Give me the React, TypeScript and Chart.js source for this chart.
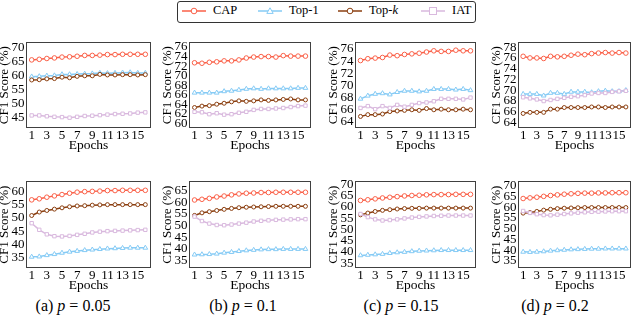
import React, { useEffect, useRef } from "react";
import { Chart, registerables } from "chart.js";
Chart.register(...registerables);

const FONT = "'Liberation Serif', 'DejaVu Serif', serif";

const epochs = [1, 2, 3, 4, 5, 6, 7, 8, 9, 10, 11, 12, 13, 14, 15, 16];
const xTickLabels = [1, 3, 5, 7, 9, 11, 13, 15];
const seriesNames = ["CAP", "Top-1", "Top-k", "IAT"];

// Top row (first metric)
const capTopA = [65.7, 65.9, 66.2, 66.4, 66.7, 66.8, 67.0, 67.3, 67.3, 67.4, 67.6, 67.6, 67.7, 67.7, 67.7, 67.7];
const top1TopA = [59.7, 59.8, 60.0, 60.1, 60.5, 60.5, 60.6, 60.7, 60.8, 61.0, 60.9, 61.0, 61.1, 61.2, 61.0, 61.0];
const topkTopA = [58.5, 58.6, 58.9, 59.0, 59.5, 59.3, 59.8, 60.0, 60.0, 60.5, 60.3, 60.3, 60.4, 60.4, 60.3, 60.4];
const iatTopA = [45.8, 45.8, 45.5, 45.3, 45.2, 45.0, 45.3, 45.6, 45.7, 45.9, 46.1, 46.3, 46.4, 46.5, 46.8, 46.9];

const capTopB = [72.7, 72.6, 72.8, 72.9, 73.1, 73.1, 73.3, 73.7, 73.9, 74.0, 74.0, 73.9, 74.2, 74.1, 74.1, 74.1];
const top1TopB = [66.4, 66.4, 66.4, 66.4, 66.7, 66.8, 67.0, 67.2, 67.3, 67.2, 67.3, 67.3, 67.3, 67.3, 67.4, 67.4];
const topkTopB = [63.3, 63.6, 63.7, 64.0, 64.2, 64.5, 64.7, 64.6, 64.7, 64.9, 64.8, 64.9, 65.0, 65.1, 64.9, 64.9];
const iatTopB = [62.4, 62.3, 61.9, 62.1, 61.8, 61.9, 62.2, 62.4, 62.8, 63.0, 63.0, 63.1, 63.2, 63.4, 63.6, 63.7];

const capTopC = [74.1, 74.4, 74.5, 74.6, 75.0, 74.9, 75.1, 75.2, 75.3, 75.5, 75.7, 75.6, 75.6, 75.8, 75.7, 75.7];
const top1TopC = [67.8, 68.3, 68.6, 68.7, 68.5, 68.9, 69.1, 69.1, 69.0, 69.1, 69.4, 69.4, 69.4, 69.3, 69.4, 69.2];
const topkTopC = [64.9, 65.2, 65.2, 65.3, 65.7, 65.8, 65.9, 66.0, 65.9, 66.2, 66.0, 66.1, 66.0, 66.0, 66.1, 66.0];
const iatTopC = [66.3, 66.6, 66.1, 66.6, 66.3, 66.8, 66.5, 66.8, 67.1, 67.2, 67.4, 67.8, 67.8, 67.8, 67.7, 68.0];

const capTopD = [76.3, 76.0, 76.0, 75.9, 76.3, 76.2, 76.3, 76.5, 76.7, 76.6, 76.8, 76.9, 77.0, 76.9, 77.0, 76.9];
const top1TopD = [69.3, 69.3, 69.3, 69.0, 69.5, 69.5, 69.3, 69.7, 69.7, 69.7, 69.6, 69.8, 69.9, 69.8, 69.8, 70.0];
const topkTopD = [65.7, 65.9, 65.9, 65.9, 66.5, 66.5, 66.8, 66.8, 66.8, 66.8, 66.9, 66.9, 66.8, 66.9, 66.9, 66.9];
const iatTopD = [68.7, 68.5, 68.3, 68.0, 68.2, 68.4, 68.6, 68.8, 68.9, 69.1, 69.4, 69.5, 69.5, 69.7, 69.8, 69.9];

// Bottom row (second metric)
const capBotA = [56.8, 57.2, 57.8, 58.3, 58.8, 59.3, 59.7, 59.9, 60.0, 60.1, 60.3, 60.3, 60.4, 60.4, 60.4, 60.4];
const top1BotA = [35.3, 35.4, 35.9, 36.3, 36.8, 37.2, 37.5, 37.8, 38.0, 38.2, 38.4, 38.5, 38.6, 38.7, 38.7, 38.7];
const topkBotA = [50.9, 52.2, 52.8, 53.3, 53.8, 54.2, 54.5, 54.6, 54.8, 54.9, 55.0, 55.0, 55.0, 55.0, 55.0, 55.0];
const iatBotA = [48.0, 45.5, 43.8, 43.1, 43.0, 43.2, 43.6, 44.0, 44.5, 44.8, 45.0, 45.1, 45.2, 45.3, 45.4, 45.5];

const capBotB = [61.0, 61.3, 61.7, 62.3, 62.7, 63.2, 63.6, 63.9, 64.0, 64.2, 64.2, 64.3, 64.3, 64.3, 64.3, 64.3];
const top1BotB = [37.6, 37.7, 37.8, 38.0, 38.4, 38.7, 39.1, 39.4, 39.6, 39.8, 39.9, 39.9, 40.0, 40.0, 40.0, 40.0];
const topkBotB = [54.4, 55.5, 56.0, 56.5, 57.0, 57.4, 57.7, 57.9, 58.0, 58.1, 58.2, 58.3, 58.3, 58.3, 58.3, 58.3];
const iatBotB = [53.9, 52.0, 50.9, 50.3, 50.2, 50.5, 50.9, 51.3, 51.8, 52.1, 52.3, 52.5, 52.6, 52.7, 52.8, 52.8];

const capBotC = [62.9, 63.2, 63.6, 64.0, 64.3, 64.6, 64.9, 65.1, 65.2, 65.4, 65.5, 65.5, 65.5, 65.6, 65.6, 65.6];
const top1BotC = [38.5, 38.7, 38.9, 39.1, 39.5, 39.8, 40.0, 40.3, 40.5, 40.6, 40.7, 40.8, 40.8, 40.8, 40.8, 40.8];
const topkBotC = [56.5, 57.3, 58.0, 58.5, 58.8, 59.1, 59.3, 59.4, 59.4, 59.5, 59.5, 59.5, 59.5, 59.5, 59.5, 59.5];
const iatBotC = [56.9, 55.5, 54.5, 54.0, 54.2, 54.5, 54.9, 55.3, 55.6, 55.8, 56.0, 56.1, 56.2, 56.2, 56.2, 56.2];

const capBotD = [64.0, 64.3, 64.6, 65.0, 65.4, 65.7, 66.0, 66.2, 66.4, 66.5, 66.5, 66.6, 66.6, 66.7, 66.7, 66.7];
const top1BotD = [39.2, 39.1, 39.2, 39.4, 39.7, 39.9, 40.1, 40.3, 40.4, 40.5, 40.6, 40.6, 40.7, 40.7, 40.7, 40.7];
const topkBotD = [57.2, 57.5, 58.0, 58.6, 59.0, 59.3, 59.5, 59.6, 59.7, 59.8, 59.8, 59.8, 59.8, 59.8, 59.8, 59.8];
const iatBotD = [58.2, 57.3, 56.7, 56.3, 56.2, 56.5, 56.8, 57.1, 57.4, 57.6, 57.8, 57.9, 58.0, 58.1, 58.1, 58.1];

// Y tick labels
const yTicksTopA = [45, 50, 55, 60, 65, 70];
const yTicksTopB = [60, 62, 64, 66, 68, 70, 72, 74, 76];
const yTicksTopC = [64, 66, 68, 70, 72, 74, 76];
const yTicksTopD = [64, 66, 68, 70, 72, 74, 76, 78];
const yTicksBotA = [35, 40, 45, 50, 55, 60];
const yTicksBotB = [35, 40, 45, 50, 55, 60, 65];
const yTicksBotC = [35, 40, 45, 50, 55, 60, 65, 70];
const yTicksBotD = [35, 40, 45, 50, 55, 60, 65, 70];

const captions = [
  { tag: "(a)", p: "0.05" },
  { tag: "(b)", p: "0.1" },
  { tag: "(c)", p: "0.15" },
  { tag: "(d)", p: "0.2" },
];

const COLORS = ["#fa6048", "#86cbf5", "#8b3f10", "#d9b9de"];
const STYLES = ["circle", "triangle", "circle", "rect"];
const RADII = [2.3, 2.7, 2.0, 2.4];

const AXIS_L = 28;
const AXIS_B = 26;
const PAD_T = 4;
const PAD_R = 4;

const framePlugin = {
  id: "frame",
  afterDraw(chart: any) {
    const { ctx, chartArea } = chart;
    ctx.save();
    ctx.strokeStyle = "#404040";
    ctx.lineWidth = 1;
    ctx.strokeRect(
      Math.round(chartArea.left) + 0.5,
      Math.round(chartArea.top) + 0.5,
      Math.round(chartArea.right - chartArea.left) - 1,
      Math.round(chartArea.bottom - chartArea.top) - 1
    );
    ctx.restore();
  },
};

type PanelProps = {
  boxL: number;
  boxT: number;
  boxW: number;
  boxH: number;
  yMin: number;
  yMax: number;
  yTicks: number[];
  series: number[][];
};

function Panel({ boxL, boxT, boxW, boxH, yMin, yMax, yTicks, series }: PanelProps) {
  const ref = useRef<HTMLCanvasElement | null>(null);
  const cw = boxW + AXIS_L + PAD_R;
  const ch = boxH + PAD_T + AXIS_B;
  useEffect(() => {
    if (!ref.current) return;
    const datasets = series.map((vals, i) => ({
      label: seriesNames[i],
      data: vals.map((v, j) => ({ x: epochs[j], y: v })),
      borderColor: COLORS[i],
      backgroundColor: "#ffffff",
      pointBackgroundColor: "#ffffff",
      pointBorderColor: COLORS[i],
      pointStyle: STYLES[i],
      pointRadius: RADII[i],
      pointBorderWidth: 1,
      borderWidth: 1.5,
      tension: 0,
      order: 4 - i,
    }));
    const chart = new Chart(ref.current, {
      type: "line",
      data: { datasets },
      plugins: [framePlugin],
      options: {
        animation: false,
        responsive: false,
        devicePixelRatio: 1,
        layout: { padding: { top: PAD_T, right: PAD_R, left: 0, bottom: 0 } },
        plugins: { legend: { display: false }, tooltip: { enabled: false } },
        scales: {
          x: {
            type: "linear",
            bounds: "data",
            min: 0.25,
            max: 16.75,
            grid: { display: false, drawTicks: false },
            border: { display: false },
            ticks: {
              color: "#000",
              font: { family: FONT, size: 13 },
              padding: 0,
              autoSkip: false,
              maxRotation: 0,
              callback: (v: any) => String(v),
            },
            afterBuildTicks: (s: any) => {
              s.ticks = xTickLabels.map((v) => ({ value: v }));
            },
            afterFit: (s: any) => {
              s.height = AXIS_B;
            },
            title: {
              display: true,
              text: "Epochs",
              color: "#000",
              font: { family: FONT, size: 13.5 },
              padding: { top: 0, bottom: 0 },
            },
          },
          y: {
            type: "linear",
            bounds: "data",
            min: yMin,
            max: yMax,
            grid: { display: false, drawTicks: false },
            border: { display: false },
            ticks: {
              color: "#000",
              font: { family: FONT, size: 13 },
              padding: 1.5,
              autoSkip: false,
              callback: (v: any) => String(v),
            },
            afterBuildTicks: (s: any) => {
              s.ticks = yTicks.map((v) => ({ value: v }));
            },
            afterFit: (s: any) => {
              s.width = AXIS_L;
            },
            title: {
              display: true,
              text: "CF1 Score (%)",
              color: "#000",
              font: { family: FONT, size: 13 },
              padding: { top: -1, bottom: 0 },
            },
          },
        },
      } as any,
    });
    return () => chart.destroy();
  }, []);
  return (
    <canvas
      ref={ref}
      width={cw}
      height={ch}
      style={{
        position: "absolute",
        left: boxL - AXIS_L,
        top: boxT - PAD_T,
        width: cw,
        height: ch,
      }}
    />
  );
}

function LegendItem({ x, idx, label }: { x: number; idx: number; label: React.ReactNode }) {
  const c = COLORS[idx];
  let marker: React.ReactNode;
  if (STYLES[idx] === "circle") {
    marker = <circle cx={12} cy={5} r={2.8} fill="#fff" stroke={c} strokeWidth={1} />;
  } else if (STYLES[idx] === "triangle") {
    marker = <polygon points="12,1.8 15.2,7.4 8.8,7.4" fill="#fff" stroke={c} strokeWidth={1} />;
  } else {
    marker = <rect x={8.5} y={1.5} width={7} height={7} fill="#fff" stroke={c} strokeWidth={1} />;
  }
  return (
    <>
      <svg
        width={24}
        height={10}
        style={{ position: "absolute", left: x, top: 6 }}
      >
        <line x1={0} y1={5} x2={24} y2={5} stroke={c} strokeWidth={1.5} />
        {marker}
      </svg>
      <div
        style={{
          position: "absolute",
          left: x + 31,
          top: 3,
          fontFamily: FONT,
          fontSize: 12.5,
          lineHeight: "15px",
          color: "#000",
          whiteSpace: "nowrap",
        }}
      >
        {label}
      </div>
    </>
  );
}

const TOP_T = 37;
const TOP_H = 91;
const BOT_T = 176;
const BOT_H = 92;
const cols = [
  { l: 26, w: 126 },
  { l: 189, w: 123 },
  { l: 355, w: 122 },
  { l: 518, w: 114 },
];
const captionCenters = [73, 243, 401, 555];

export default function App() {
  const top = [
    { yMin: 41.3, yMax: 72.0, yTicks: yTicksTopA, series: [capTopA, top1TopA, topkTopA, iatTopA] },
    { yMin: 59.0, yMax: 77.0, yTicks: yTicksTopB, series: [capTopB, top1TopB, topkTopB, iatTopB] },
    { yMin: 63.0, yMax: 77.1, yTicks: yTicksTopC, series: [capTopC, top1TopC, topkTopC, iatTopC] },
    { yMin: 63.0, yMax: 78.9, yTicks: yTicksTopD, series: [capTopD, top1TopD, topkTopD, iatTopD] },
  ];
  const bot = [
    { yMin: 31.1, yMax: 63.8, yTicks: yTicksBotA, series: [capBotA, top1BotA, topkBotA, iatBotA] },
    { yMin: 31.9, yMax: 69.0, yTicks: yTicksBotB, series: [capBotB, top1BotB, topkBotB, iatBotB] },
    { yMin: 32.9, yMax: 71.4, yTicks: yTicksBotC, series: [capBotC, top1BotC, topkBotC, iatBotC] },
    { yMin: 31.7, yMax: 72.0, yTicks: yTicksBotD, series: [capBotD, top1BotD, topkBotD, iatBotD] },
  ];
  return (
    <div
      style={{
        position: "absolute",
        left: 0,
        top: 0,
        width: 640,
        height: 315,
        background: "#fff",
        overflow: "hidden",
      }}
    >
      <div
        style={{
          position: "absolute",
          left: 177,
          top: 1,
          width: 297,
          height: 20,
          border: "1px solid #333",
          borderRadius: 3,
        }}
      />
      <LegendItem x={182} idx={0} label={seriesNames[0]} />
      <LegendItem x={258} idx={1} label={seriesNames[1]} />
      <LegendItem x={338} idx={2} label={<span>Top-<i>k</i></span>} />
      <LegendItem x={421} idx={3} label={seriesNames[3]} />
      {top.map((p, i) => (
        <Panel key={"t" + i} boxL={cols[i].l} boxT={TOP_T} boxW={cols[i].w} boxH={TOP_H} {...p} />
      ))}
      {bot.map((p, i) => (
        <Panel key={"b" + i} boxL={cols[i].l} boxT={BOT_T} boxW={cols[i].w} boxH={BOT_H} {...p} />
      ))}
      {captions.map((c, i) => (
        <div
          key={"c" + i}
          style={{
            position: "absolute",
            left: captionCenters[i] - 60,
            width: 120,
            top: 297,
            textAlign: "center",
            fontFamily: FONT,
            fontSize: 16,
            lineHeight: "18px",
            color: "#000",
            whiteSpace: "nowrap",
          }}
        >
          {c.tag} <i>p</i>&nbsp;= {c.p}
        </div>
      ))}
    </div>
  );
}
